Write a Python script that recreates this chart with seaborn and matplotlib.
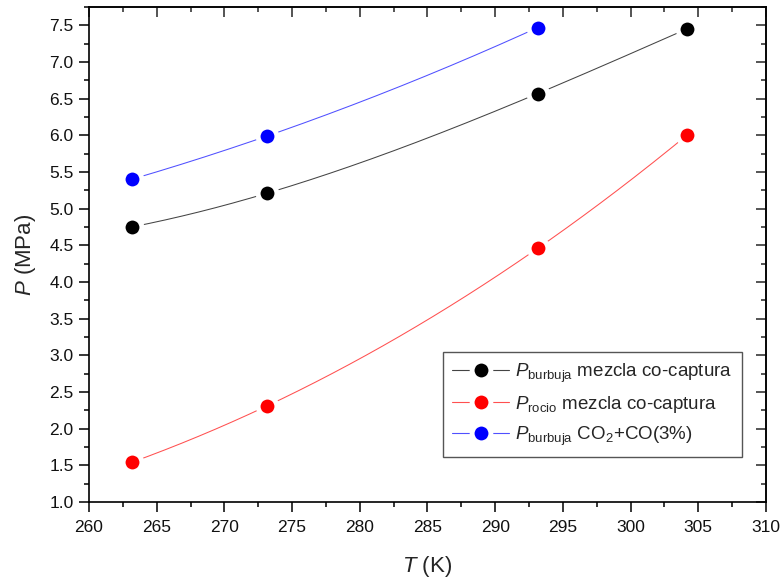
import numpy as np
import pandas as pd
import matplotlib
matplotlib.use("Agg")
import matplotlib.pyplot as plt
from matplotlib.lines import Line2D
from matplotlib.ticker import MultipleLocator, FormatStrFormatter
import seaborn as sns

# Temperatures (K) and saturation pressures (MPa)
T_mix = [263.15, 273.15, 293.15, 304.15]
P_burbuja_mix = [4.75, 5.21, 6.57, 7.45]
P_rocio_mix = [1.54, 2.31, 4.46, 6.00]
T_co2 = [263.15, 273.15, 293.15]
P_burbuja_co2 = [5.40, 5.99, 7.47]

labels = [
    r"$\mathit{P}_{\mathrm{burbuja}}$ mezcla co-captura",
    r"$\mathit{P}_{\mathrm{rocio}}$ mezcla co-captura",
    r"$\mathit{P}_{\mathrm{burbuja}}$ CO$_{2}$+CO(3%)",
]
colors = ["#000000", "#ff0000", "#0000ff"]
line_colors = ["#444444", "#ff5050", "#5050ff"]

sns.set_theme(style="white")
plt.rcParams["font.family"] = ["Liberation Sans", "DejaVu Sans"]
plt.rcParams["mathtext.fontset"] = "custom"
plt.rcParams["mathtext.rm"] = "Liberation Sans"
plt.rcParams["mathtext.it"] = "Liberation Sans:italic"
plt.rcParams["mathtext.bf"] = "Liberation Sans:bold"

fig = plt.figure(figsize=(7.84, 5.81), dpi=100)
ax = fig.add_axes([0.1135, 0.136, 0.8635, 0.852])

series = [(T_mix, P_burbuja_mix), (T_mix, P_rocio_mix), (T_co2, P_burbuja_co2)]
MS, MEW = 13.5, 3.5
for (T, P), c, lc in zip(series, colors, line_colors):
    # smooth curve through the measured points
    coef = np.polyfit(T, P, len(T) - 1)
    xs = np.linspace(min(T), max(T), 200)
    curve = pd.DataFrame({"T": xs, "P": np.polyval(coef, xs)})
    sns.lineplot(data=curve, x="T", y="P", ax=ax, color=lc, lw=0.75, sort=False, zorder=2)
    pts = pd.DataFrame({"T": T, "P": P})
    sns.scatterplot(data=pts, x="T", y="P", ax=ax, color=c, s=MS ** 2,
                    edgecolor="white", linewidth=MEW, zorder=3)

ax.set_xlim(260, 310)
ax.set_ylim(1.0, 7.75)
ax.xaxis.set_major_locator(MultipleLocator(5))
ax.xaxis.set_minor_locator(MultipleLocator(2.5))
ax.yaxis.set_major_locator(MultipleLocator(0.5))
ax.yaxis.set_minor_locator(MultipleLocator(0.25))
ax.yaxis.set_major_formatter(FormatStrFormatter("%.1f"))

for s in ax.spines.values():
    s.set_visible(True)
    s.set_color("black")
    s.set_linewidth(1.2)

ax.tick_params(which="both", direction="out", color="black", width=1.1,
               labelsize=12.5, labelcolor="#111111", bottom=True, left=True)
ax.tick_params(which="major", length=7)
ax.tick_params(which="minor", length=3.6)
ax.tick_params(axis="x", which="major", pad=6)
ax.tick_params(axis="y", which="major", pad=4)

# mirrored inward ticks on top and right
top = ax.secondary_xaxis("top")
top.xaxis.set_major_locator(MultipleLocator(5))
top.xaxis.set_minor_locator(MultipleLocator(2.5))
top.tick_params(which="both", direction="in", width=1.1, labeltop=False, top=True)
top.tick_params(which="major", length=7)
top.tick_params(which="minor", length=3.6)
top.spines["top"].set_linewidth(1.2)
right = ax.secondary_yaxis("right")
right.yaxis.set_major_locator(MultipleLocator(0.5))
right.yaxis.set_minor_locator(MultipleLocator(0.25))
right.tick_params(which="both", direction="in", width=1.1, labelright=False, right=True)
right.tick_params(which="major", length=7)
right.tick_params(which="minor", length=3.6)
right.spines["right"].set_linewidth(1.2)

ax.set_xlabel(r"$\mathit{T}$ (K)", fontsize=16, labelpad=14)
ax.set_ylabel(r"$\mathit{P}$ (MPa)", fontsize=16, labelpad=8)

handles = [Line2D([], [], color=lc, lw=0.8, marker="o", ms=MS, mfc=c,
                  mec="white", mew=MEW)
           for c, lc in zip(colors, line_colors)]
leg = ax.legend(handles, labels, loc="upper left", bbox_to_anchor=(0.523, 0.303),
                borderaxespad=0, fontsize=13.5, handlelength=3.0, handletextpad=0.35,
                labelspacing=0.5, fancybox=False, framealpha=1, borderpad=0.5)
leg.get_frame().set_edgecolor("#555555")
leg.get_frame().set_linewidth(1.0)

fig.savefig("out.png", dpi=100)
